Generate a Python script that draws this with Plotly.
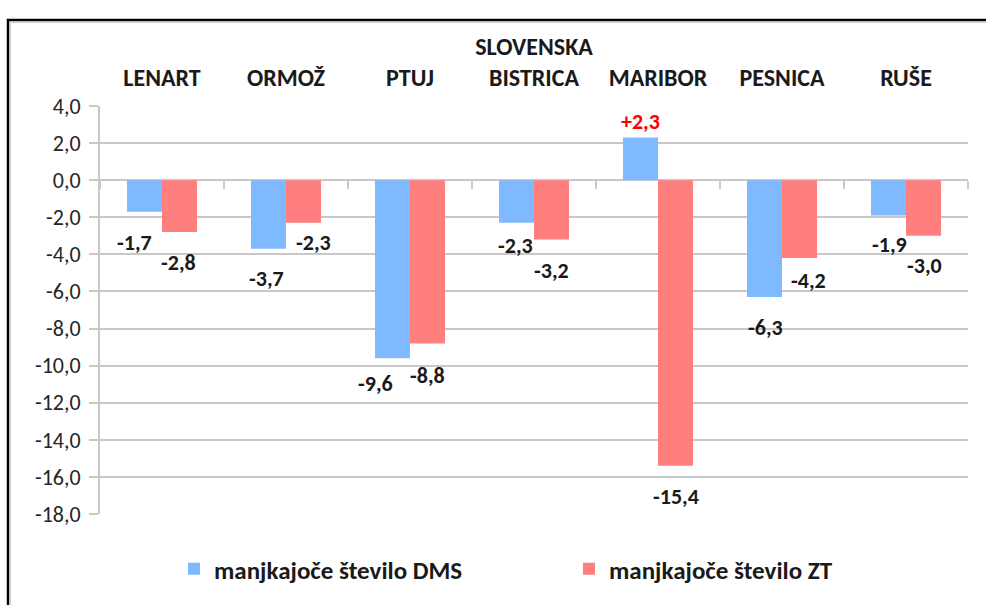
import plotly.graph_objects as go

# ---- data ----
categories = ["LENART", "ORMOŽ", "PTUJ", "SLOVENSKA<br>BISTRICA", "MARIBOR", "PESNICA", "RUŠE"]
dms_values = [-1.7, -3.7, -9.6, -2.3, 2.3, -6.3, -1.9]
zt_values = [-2.8, -2.3, -8.8, -3.2, -15.4, -4.2, -3.0]
dms_text = ["-1,7", "-3,7", "-9,6", "-2,3", "+2,3", "-6,3", "-1,9"]
zt_text = ["-2,8", "-2,3", "-8,8", "-3,2", "-15,4", "-4,2", "-3,0"]
series_names = ["manjkajoče število DMS", "manjkajoče število ZT"]
y_tickvals = [4, 2, 0, -2, -4, -6, -8, -10, -12, -14, -16, -18]
y_ticktext = ["4,0", "2,0", "0,0", "-2,0", "-4,0", "-6,0", "-8,0", "-10,0",
              "-12,0", "-14,0", "-16,0", "-18,0"]

# ---- label placement (pixel offsets from bar end) ----
dms_dx = [-10, -2, -17, -1, 0, 1, 1]
dms_dy = [-31, -30, -25, -23, 16, -30, -29]
zt_dx = [-1, 10, 0, 0, 0, 9, 1]
zt_dy = [-30, -20, -32, -31, -31, -22, -30]
dms_label_colors = ["#1a1a1a", "#1a1a1a", "#1a1a1a", "#1a1a1a", "#ff0000", "#1a1a1a", "#1a1a1a"]

BLUE = "#7fb9ff"
RED = "#ff7f7f"
GRID = "#c8c8c8"
FONT = "Carlito, Calibri, Lato, Roboto, sans-serif"

W, H = 986, 605
ML, MR, MT, MB = 100, 18, 106, 91
PW, PH = W - ML - MR, H - MT - MB

fig = go.Figure()
fig.add_trace(go.Bar(x=categories, y=dms_values, name=series_names[0],
                     marker=dict(color=BLUE, line=dict(width=0)), hoverinfo="skip"))
fig.add_trace(go.Bar(x=categories, y=zt_values, name=series_names[1],
                     marker=dict(color=RED, line=dict(width=0)), hoverinfo="skip"))
# helper trace for the zero axis with boundary ticks
fig.add_trace(go.Scatter(x=categories, y=[0] * len(categories), xaxis="x2", mode="markers",
                         marker=dict(opacity=0), showlegend=False, hoverinfo="skip"))

annotations = []
for i, c in enumerate(categories):
    annotations.append(dict(x=c, y=dms_values[i], xref="x", yref="y", text=dms_text[i],
                            showarrow=False, xshift=-17.5 + dms_dx[i], yshift=dms_dy[i],
                            font=dict(family=FONT, size=22, color=dms_label_colors[i], weight="bold")))
    annotations.append(dict(x=c, y=zt_values[i], xref="x", yref="y", text=zt_text[i],
                            showarrow=False, xshift=17.5 + zt_dx[i], yshift=zt_dy[i],
                            font=dict(family=FONT, size=22, color="#1a1a1a", weight="bold")))

def px_x(p):
    return (p - ML) / PW

def px_y(p):
    return (H - MB - p) / PH

shapes = [
    dict(type="rect", xref="paper", yref="paper", x0=px_x(8), x1=px_x(1000), y0=px_y(620), y1=px_y(20),
         line=dict(color="black", width=2.5), fillcolor="rgba(0,0,0,0)", layer="below"),
    dict(type="rect", xref="paper", yref="paper", x0=px_x(10.5), x1=px_x(1000), y0=px_y(620), y1=px_y(22.5),
         line=dict(color="#d0d0d0", width=1), fillcolor="rgba(0,0,0,0)", layer="below"),
]

fig.update_layout(
    width=W, height=H,
    margin=dict(l=ML, r=MR, t=MT, b=MB, pad=0, autoexpand=False),
    paper_bgcolor="white", plot_bgcolor="white",
    barmode="group", bargap=0.435, bargroupgap=0,
    font=dict(family=FONT, size=22, color="#262626"),
    showlegend=True,
    legend=dict(orientation="h", xref="container", yref="container",
                x=174 / W, xanchor="left", y=1 - 569 / H, yanchor="middle",
                font=dict(family=FONT, size=25, color="#1a1a1a", weight="bold"),
                entrywidth=350, entrywidthmode="pixels", itemwidth=30,
                bgcolor="rgba(0,0,0,0)"),
    xaxis=dict(side="top", type="category", showline=False, showgrid=False, ticks="",
               tickfont=dict(family=FONT, size=24, color="#1a1a1a", weight="bold"),
               ticklabelstandoff=14, fixedrange=True, automargin=False),
    xaxis2=dict(overlaying="x", matches="x", anchor="free", position=18 / 22, side="bottom",
                type="category", showline=True, linecolor=GRID, linewidth=2,
                ticks="outside", tickson="boundaries", ticklen=8, tickwidth=2, tickcolor=GRID,
                showticklabels=False, showgrid=False, layer="below traces", automargin=False),
    yaxis=dict(range=[-18, 4], tickvals=y_tickvals, ticktext=y_ticktext,
               showgrid=True, gridcolor=GRID, gridwidth=2, zeroline=False,
               showline=True, linecolor=GRID, linewidth=2,
               ticks="outside", ticklen=9, tickwidth=2, tickcolor=GRID,
               tickfont=dict(family=FONT, size=22, color="#262626"),
               ticklabelstandoff=4, fixedrange=True, automargin=False),
    annotations=annotations,
    shapes=shapes,
)

fig.write_html("out.html", config={"displayModeBar": False},
               post_script="document.body.style.margin='0px';document.body.style.padding='0px';")
